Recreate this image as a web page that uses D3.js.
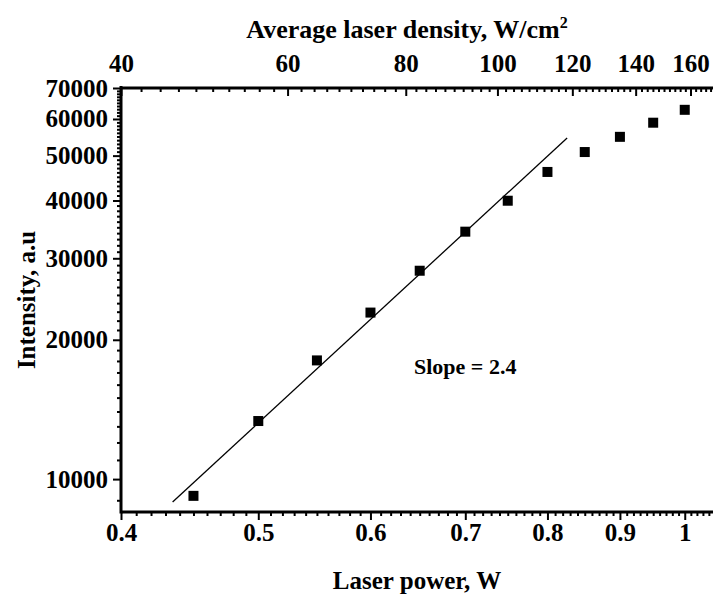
<!DOCTYPE html>
<html><head><meta charset="utf-8">
<script src="https://cdn.jsdelivr.net/npm/d3@7"></script>
<style>
html,body{margin:0;padding:0;background:#fff;}
text{font-family:"Liberation Serif","Times New Roman",serif;font-weight:bold;fill:#000;}
</style></head>
<body>
<svg id="c" width="713" height="594"></svg>
<script>
// ---- data ----
const laserPower = [0.45, 0.5, 0.55, 0.6, 0.65, 0.7, 0.75, 0.8, 0.85, 0.9, 0.95, 1.0];
const intensity  = [9200, 13350, 18050, 22900, 28200, 34250, 39950, 46100, 50900, 54900, 58900, 62800];
const fitPower = [0.435, 0.826];
const fitIntensity = [8920, 54600];
const xTicks = [0.4, 0.5, 0.6, 0.7, 0.8, 0.9, 1];
const yTicks = [10000, 20000, 30000, 40000, 50000, 60000, 70000];
const topTicks = [40, 60, 80, 100, 120, 140, 160];
const slopeLabel = "Slope = 2.4";

const svg = d3.select("#c");
const L = 121, R = 713, T = 88, B = 512;

const x = d3.scaleLog().domain([0.4, 1.047]).range([L, R]);
const xTop = d3.scaleLog().domain([40, 169]).range([L, R]);
const y = d3.scaleLog().domain([8490, 70000]).range([B, T]);

const fmtX = d => (d === 1 ? "1" : d3.format(".1f")(d));

// minor tick values
const xMinor = d3.range(41, 105).map(v => v / 100).filter(v => !xTicks.some(t => Math.abs(t - v) < 1e-9));
const yMinor = d3.range(9000, 70000, 1000).filter(v => !yTicks.includes(v));
const topMinor = d3.range(42, 170, 2).filter(v => !topTicks.includes(v));

// bottom axis
const gB = svg.append("g").attr("transform", `translate(0,${B})`);
gB.call(d3.axisBottom(x).tickValues(xTicks).tickFormat(fmtX).tickSize(8).tickPadding(3));
gB.append("g").call(d3.axisBottom(x).tickValues(xMinor).tickFormat("").tickSize(4));
// left axis
const gL = svg.append("g").attr("transform", `translate(${L},0)`);
gL.call(d3.axisLeft(y).tickValues(yTicks).tickFormat(d3.format("d")).tickSize(8).tickPadding(5));
gL.append("g").call(d3.axisLeft(y).tickValues(yMinor).tickFormat("").tickSize(4));
// top axis (ticks inward)
const gT = svg.append("g").attr("transform", `translate(0,${T})`);
gT.call(d3.axisTop(xTop).tickValues(topTicks).tickFormat(d3.format("d")).tickSize(-8).tickPadding(16));
gT.append("g").call(d3.axisTop(xTop).tickValues(topMinor).tickFormat("").tickSize(-4));

svg.selectAll(".domain").remove();
svg.selectAll(".tick line").attr("stroke", "#000").attr("stroke-width", 2);
svg.selectAll(".tick text").style("font-size", "25px");

// axis lines
svg.append("line").attr("x1", L).attr("x2", R).attr("y1", B).attr("y2", B).attr("stroke", "#000").attr("stroke-width", 3);
svg.append("line").attr("x1", L).attr("x2", R).attr("y1", T).attr("y2", T).attr("stroke", "#000").attr("stroke-width", 3);
svg.append("line").attr("x1", L).attr("x2", L).attr("y1", T - 2).attr("y2", B + 1.5).attr("stroke", "#000").attr("stroke-width", 3);

// fit line
svg.append("line")
  .attr("x1", x(fitPower[0])).attr("y1", y(fitIntensity[0]))
  .attr("x2", x(fitPower[1])).attr("y2", y(fitIntensity[1]))
  .attr("stroke", "#000").attr("stroke-width", 1.3);

// points
const s = 10;
svg.selectAll("rect.pt").data(laserPower.map((p, i) => [p, intensity[i]])).enter()
  .append("rect").attr("class", "pt")
  .attr("x", d => x(d[0]) - s / 2).attr("y", d => y(d[1]) - s / 2)
  .attr("width", s).attr("height", s).attr("fill", "#000");

// annotation
svg.append("text").attr("x", 414).attr("y", 374).style("font-size", "22px").text(slopeLabel);

// titles
svg.append("text").attr("x", 417).attr("y", 589).attr("text-anchor", "middle")
  .style("font-size", "25px").text("Laser power, W");
const tt = svg.append("text").attr("x", 407).attr("y", 38).attr("text-anchor", "middle").style("font-size", "26px");
tt.append("tspan").text("Average laser density, W/cm");
tt.append("tspan").attr("dy", -10).style("font-size", "16px").text("2");
svg.append("text").attr("transform", "translate(35,300) rotate(-90)").attr("text-anchor", "middle")
  .style("font-size", "25px").text("Intensity, a.u");
</script>
</body></html>
